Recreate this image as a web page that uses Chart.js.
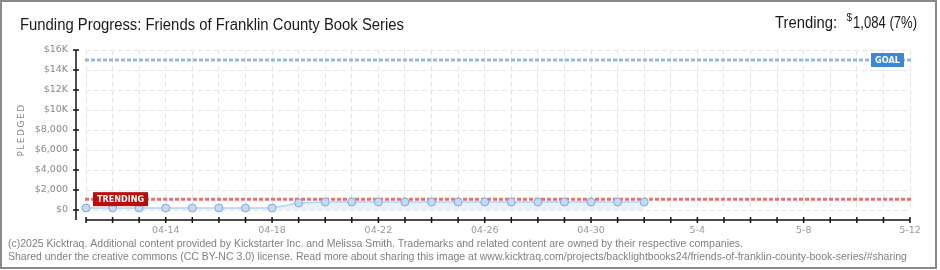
<!DOCTYPE html>
<html>
<head>
<meta charset="utf-8">
<script src="https://cdn.jsdelivr.net/npm/chart.js@4/dist/chart.umd.min.js"></script>
<style>
  html, body { margin: 0; padding: 0; background: #fff; }
  #wrap { width: 940px; height: 270px; position: relative; }
</style>
</head>
<body>
<div id="wrap"><canvas id="funding"></canvas></div>
<script>
// DATA
const days = [
  "04-11", "04-12", "04-13", "04-14", "04-15", "04-16", "04-17", "04-18",
  "04-19", "04-20", "04-21", "04-22", "04-23", "04-24", "04-25", "04-26",
  "04-27", "04-28", "04-29", "04-30", "5-1", "5-2", "5-3", "5-4",
  "5-5", "5-6", "5-7", "5-8", "5-9", "5-10", "5-11", "5-12",
];
const pledged = [
  200, 200, 200, 200, 200, 200, 200, 200,
  700, 800, 800, 800, 800, 800, 800, 800,
  800, 800, 800, 800, 800, 800,
];
const goal = 15000;
const trending = 1084;
const xTickLabels = ["04-14", "04-18", "04-22", "04-26", "04-30", "5-4", "5-8", "5-12"];
const yTickLabels = ["$0", "$2,000", "$4,000", "$6,000", "$8,000", "$10K", "$12K", "$14K", "$16K"];

const titleText = "Funding Progress: Friends of Franklin County Book Series";
const trendLabel = "Trending:";
const trendValue = "1,084 (7%)";
const footer1 = "(c)2025 Kicktraq. Additional content provided by Kickstarter Inc. and Melissa Smith. Trademarks and related content are owned by their respective companies.";
const footer2 = "Shared under the creative commons (CC BY-NC 3.0) license. Read more about sharing this image at www.kicktraq.com/projects/backlightbooks24/friends-of-franklin-county-book-series/#sharing";

const tickFont = { family: "'DejaVu Sans', sans-serif", size: 9.5 };

function refLine(ctx, chart, value, color) {
  const y = chart.scales.y.getPixelForValue(value);
  const x0 = chart.scales.x.getPixelForValue(0) - 1;
  const x1 = chart.scales.x.getPixelForValue(days.length - 1) + 1;
  ctx.save();
  ctx.strokeStyle = color;
  ctx.lineWidth = 3;
  ctx.setLineDash([4, 2]);
  ctx.beginPath();
  ctx.moveTo(x0, y);
  ctx.lineTo(x1, y);
  ctx.stroke();
  ctx.restore();
}

function tag(ctx, text, x, y, w, color) {
  ctx.save();
  ctx.fillStyle = color;
  ctx.fillRect(x, y - 7, w, 14);
  ctx.fillStyle = "#fff";
  ctx.font = "bold 9px 'DejaVu Sans', sans-serif";
  ctx.textAlign = "left";
  ctx.textBaseline = "middle";
  ctx.fillText(text, x + 4, y + 0.5, w - 8);
  ctx.restore();
}

const kicktraqDecor = {
  id: "kicktraqDecor",
  beforeDatasetsDraw(chart) {
    const ctx = chart.ctx;
    refLine(ctx, chart, goal, "rgba(138,176,222,0.9)");
    refLine(ctx, chart, trending, "rgba(222,92,94,0.85)");
  },
  afterDraw(chart) {
    const ctx = chart.ctx;
    const xs = chart.scales.x;
    const ys = chart.scales.y;
    const area = chart.chartArea;

    // axes
    ctx.save();
    ctx.lineWidth = 1.5;
    ctx.strokeStyle = "#111";
    const ax = area.left - 10;
    ctx.beginPath();
    ctx.moveTo(ax, ys.getPixelForValue(16000));
    ctx.lineTo(ax, area.bottom + 10);
    ctx.stroke();
    ys.ticks.forEach(t => {
      const y = ys.getPixelForValue(t.value);
      ctx.beginPath();
      if (t.value % 2000 === 0) {
        ctx.strokeStyle = "#111";
        ctx.moveTo(ax - 3, y);
        ctx.lineTo(ax + 3, y);
      } else {
        ctx.strokeStyle = "#e00000";
        ctx.moveTo(ax - 3, y);
        ctx.lineTo(ax, y);
      }
      ctx.stroke();
    });
    const by = area.bottom + 10;
    ctx.strokeStyle = "#111";
    ctx.beginPath();
    ctx.moveTo(xs.getPixelForValue(0), by);
    ctx.lineTo(xs.getPixelForValue(days.length - 1), by);
    ctx.stroke();
    days.forEach((d, i) => {
      const x = xs.getPixelForValue(i);
      ctx.beginPath();
      ctx.moveTo(x, by - 3);
      ctx.lineTo(x, by + 3);
      ctx.stroke();
    });
    ctx.restore();

    // tags
    tag(ctx, "TRENDING", area.left + 7, ys.getPixelForValue(trending), 55, "#bb0b0b");
    tag(ctx, "GOAL", area.right - 39, ys.getPixelForValue(goal), 33, "#3d88d6");

    // titles
    ctx.save();
    ctx.fillStyle = "#1a1a1a";
    ctx.textBaseline = "alphabetic";
    ctx.font = "16px 'Liberation Sans', sans-serif";
    ctx.textAlign = "left";
    ctx.fillText(titleText, 20, 30, 384);

    ctx.textAlign = "right";
    ctx.font = "16px 'Liberation Sans', sans-serif";
    ctx.fillText(trendValue, 917, 27.5, 64);
    const vx = 917 - Math.min(64, ctx.measureText(trendValue).width);
    ctx.font = "10px 'Liberation Sans', sans-serif";
    ctx.fillText("$", vx - 1, 21);
    ctx.font = "16px 'Liberation Sans', sans-serif";
    ctx.fillText(trendLabel, vx - 16, 27.5, 62);

    // y title
    ctx.save();
    ctx.translate(24, 130);
    ctx.rotate(-Math.PI / 2);
    ctx.textAlign = "center";
    ctx.fillStyle = "#888";
    ctx.font = "9px 'DejaVu Sans', sans-serif";
    ctx.letterSpacing = "1.5px";
    ctx.fillText("PLEDGED", 0, 0);
    ctx.restore();

    // footer
    ctx.textAlign = "left";
    ctx.fillStyle = "#808080";
    ctx.font = "10.5px 'Liberation Sans', sans-serif";
    ctx.fillText(footer1, 8, 246.5, 737);
    ctx.fillText(footer2, 8, 259.5, 905);

    // frame
    ctx.strokeStyle = "#8a8a8a";
    ctx.lineWidth = 2;
    ctx.strokeRect(1, 1, 935, 267);
    ctx.restore();
  },
};

const fundingctx = document.getElementById("funding").getContext("2d");
new Chart(fundingctx, {
  type: "line",
  data: {
    labels: days,
    datasets: [
      {
        label: "Pledged",
        data: pledged,
        borderColor: "#b6d2f1",
        borderWidth: 1.5,
        backgroundColor: "rgba(220,235,252,0.65)",
        fill: "origin",
        tension: 0,
        pointRadius: 4,
        pointBackgroundColor: "#c2daf6",
        pointBorderColor: "#85a9d6",
        pointBorderWidth: 1,
        clip: false,
      },
    ],
  },
  options: {
    responsive: true,
    maintainAspectRatio: false,
    animation: false,
    layout: { padding: { left: 0, right: 30, top: 50, bottom: 35 } },
    plugins: { legend: { display: false }, tooltip: { enabled: false } },
    scales: {
      x: {
        afterFit(scale) { scale.height = 25; },
        grid: { color: "#e4e4e4", drawTicks: false, lineWidth: 1 },
        border: { display: false, dash: [5, 3] },
        ticks: {
          autoSkip: false,
          maxRotation: 0,
          padding: 15,
          color: "#999",
          font: tickFont,
          callback: function (v) {
            const l = this.getLabelForValue(v);
            return xTickLabels.includes(l) ? l : "";
          },
        },
      },
      y: {
        min: 0,
        max: 16000,
        afterFit(scale) { scale.width = 86; },
        grid: {
          drawTicks: false,
          color: c => (c.tick.value % 2000 === 0 ? "#e4e4e4" : "rgba(0,0,0,0)"),
        },
        border: { display: false, dash: [5, 3] },
        ticks: {
          stepSize: 1000,
          padding: 18,
          color: "#888",
          font: tickFont,
          callback: v => (v % 2000 === 0 ? yTickLabels[v / 2000] : ""),
        },
      },
    },
  },
  plugins: [kicktraqDecor],
});
</script>
</body>
</html>
